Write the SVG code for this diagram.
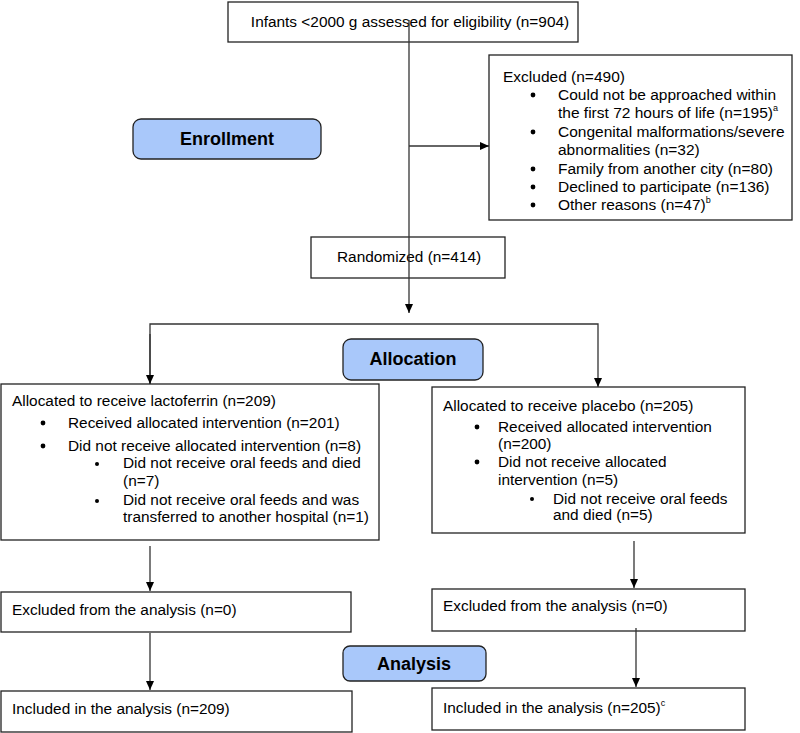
<svg xmlns="http://www.w3.org/2000/svg" width="800" height="733" viewBox="0 0 800 733">
<defs>
<marker id="arr" markerWidth="10" markerHeight="10" refX="9" refY="5" orient="auto" markerUnits="userSpaceOnUse">
<path d="M0,1 L9,5 L0,9 Z" fill="#000"/>
</marker>
<style>
.box{fill:#fff;stroke:#222;stroke-width:1.3}
.stage{fill:#a9c8fa;stroke:#222;stroke-width:1.3}
.t{font-family:"Liberation Sans",Arial,sans-serif;font-size:15.4px;fill:#000}
.x{font-size:15.5px}
.h{font-family:"Liberation Sans",Arial,sans-serif;font-size:18px;font-weight:bold;fill:#000;text-anchor:middle}
.ln{fill:none;stroke:#333;stroke-width:1.3}
.sup{font-size:9px}
</style>
</defs>
<rect width="800" height="733" fill="#fff"/>

<g id="n-assessed">
<rect class="box" x="228" y="2" width="350" height="40"/>
<text class="t" x="410" y="27" text-anchor="middle">Infants &lt;2000 g assessed for eligibility (n=904)</text>
</g>

<g id="n-excluded">
<rect class="box" x="489" y="55" width="303" height="165"/>
<text class="t x" x="503" y="82">Excluded (n=490)</text>
<g fill="#000"><circle cx="533" cy="95" r="2.4"/><circle cx="533" cy="132" r="2.4"/><circle cx="533" cy="169" r="2.4"/><circle cx="533" cy="187" r="2.4"/><circle cx="533" cy="205" r="2.4"/></g>
<text class="t x" x="558" y="100">Could not be approached within</text>
<text class="t x" x="558" y="118">the first 72 hours of life (n=195)<tspan class="sup" dy="-7">a</tspan></text>
<text class="t x" x="558" y="137">Congenital malformations/severe</text>
<text class="t x" x="558" y="155">abnormalities (n=32)</text>
<text class="t x" x="558" y="174">Family from another city (n=80)</text>
<text class="t x" x="558" y="192">Declined to participate (n=136)</text>
<text class="t x" x="558" y="210">Other reasons (n=47)<tspan class="sup" dy="-7">b</tspan></text>
</g>

<g id="n-enrollment">
<rect class="stage" x="133" y="119" width="188" height="40" rx="8"/>
<text class="h" x="227" y="145">Enrollment</text>
</g>

<g id="n-randomized">
<rect class="box" x="311" y="237" width="194" height="41"/>
<text class="t" x="337" y="262">Randomized (n=414)</text>
</g>

<g id="n-allocation">
<rect class="stage" x="343" y="339" width="140" height="41" rx="8"/>
<text class="h" x="413" y="365">Allocation</text>
</g>

<g id="n-lacto">
<rect class="box" x="1" y="384" width="378" height="156"/>
<text class="t" x="12" y="406">Allocated to receive lactoferrin (n=209)</text>
<g fill="#000"><circle cx="43" cy="423" r="2.4"/><circle cx="43" cy="446" r="2.4"/><circle cx="97" cy="464" r="2"/><circle cx="97" cy="501" r="2"/></g>
<text class="t" x="68" y="428">Received allocated intervention (n=201)</text>
<text class="t" x="68" y="451">Did not receive allocated intervention (n=8)</text>
<text class="t" x="123" y="468">Did not receive oral feeds and died</text>
<text class="t" x="123" y="486">(n=7)</text>
<text class="t" x="123" y="505">Did not receive oral feeds and was</text>
<text class="t" x="123" y="522">transferred to another hospital (n=1)</text>
</g>

<g id="n-placebo">
<rect class="box" x="432" y="387" width="313" height="146"/>
<text class="t" x="443" y="411">Allocated to receive placebo (n=205)</text>
<g fill="#000"><circle cx="477" cy="427" r="2.4"/><circle cx="477" cy="462" r="2.4"/><circle cx="532" cy="499" r="2"/></g>
<text class="t" x="498" y="432">Received allocated intervention</text>
<text class="t" x="498" y="449">(n=200)</text>
<text class="t" x="498" y="467">Did not receive allocated</text>
<text class="t" x="498" y="485">intervention (n=5)</text>
<text class="t" x="553" y="504">Did not receive oral feeds</text>
<text class="t" x="553" y="520">and died (n=5)</text>
</g>

<g id="n-excl-left">
<rect class="box" x="1" y="592" width="350" height="40"/>
<text class="t" x="12" y="615">Excluded from the analysis (n=0)</text>
</g>

<g id="n-excl-right">
<rect class="box" x="432" y="589" width="313" height="42"/>
<text class="t" x="443" y="611">Excluded from the analysis (n=0)</text>
</g>

<g id="n-analysis">
<rect class="stage" x="343" y="646" width="143" height="35" rx="7"/>
<text class="h" x="414" y="670">Analysis</text>
</g>

<g id="n-incl-left">
<rect class="box" x="1" y="691" width="351" height="41"/>
<text class="t" x="12" y="714">Included in the analysis (n=209)</text>
</g>

<g id="n-incl-right">
<rect class="box" x="432" y="688" width="313" height="42"/>
<text class="t" x="443" y="713">Included in the analysis (n=205)<tspan class="sup" dy="-7">c</tspan></text>
</g>

<g id="connectors">
<path class="ln" d="M409,20 V313" marker-end="url(#arr)"/>
<path class="ln" d="M409,146 H489" marker-end="url(#arr)"/>
<path class="ln" d="M150,384 V324 H598 V387" marker-end="url(#arr)"/>
<path class="ln" d="M150,334 V384" marker-end="url(#arr)"/>
<path class="ln" d="M150,546 V591" marker-end="url(#arr)"/>
<path class="ln" d="M150,633 V690" marker-end="url(#arr)"/>
<path class="ln" d="M634,541 V588" marker-end="url(#arr)"/>
<path class="ln" d="M636,628 V687" marker-end="url(#arr)"/>
</g>
</svg>
